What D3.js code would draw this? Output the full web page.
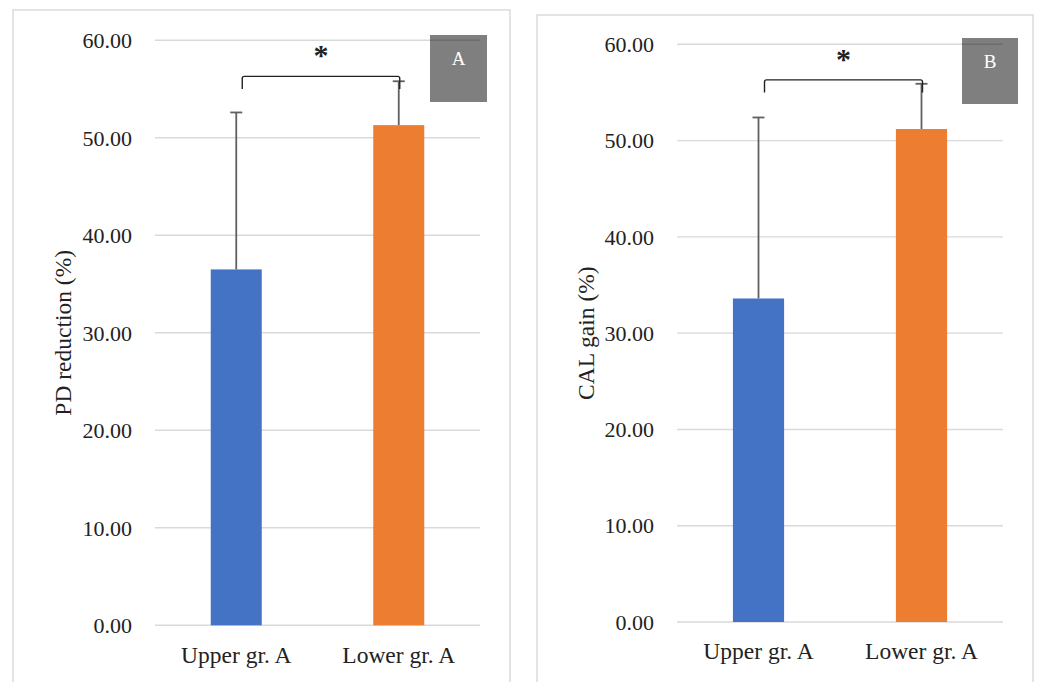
<!DOCTYPE html>
<html lang="en">
<head>
    <meta charset="UTF-8">
    <title>PD reduction and CAL gain</title>
    <style>
        body {
            margin: 0;
            padding: 0;
            background-color: #fff;
            font-family: 'Liberation Serif', serif;
        }
        .grid line {
            stroke: #d9d9d9;
            stroke-width: 1.4px;
        }
        .tick-label {
            font-size: 22px;
            fill: #222;
        }
        .cat-label {
            font-size: 23.5px;
            fill: #222;
        }
        .axis-title {
            font-size: 23.5px;
            fill: #222;
        }
        .err {
            stroke: #606060;
            stroke-width: 1.8px;
        }
        .bracket {
            fill: none;
            stroke: #222;
            stroke-width: 1.4px;
        }
    </style>
</head>
<body>
    <svg id="chart"></svg>

    <script src="https://d3js.org/d3.v7.min.js"></script>
    <script>
        // Data
        const categories = ['Upper gr. A', 'Lower gr. A'];
        const colors = ['#4472c4', '#ed7d31'];
        const yTicks = [0, 10, 20, 30, 40, 50, 60];

        const pdMean = [36.5, 51.3];
        const pdSD = [16.1, 4.5];

        const calMean = [33.6, 51.2];
        const calSD = [18.8, 4.7];

        const bracketLevel = 56.3;
        const bracketDrop = 55.0;

        const width = 1038;
        const height = 682;

        const svg = d3.select('#chart')
            .attr('width', width)
            .attr('height', height);

        // Panel layouts
        const panels = [
            {
                mean: pdMean, sd: pdSD, title: 'PD reduction (%)', tag: 'A',
                frame: [13, 10, 497, 700],
                x0: 155, x1: 480, yTop: 40.3, yBottom: 625.3,
                titleX: 71, labelY: 663,
                box: [430, 35, 57, 67]
            },
            {
                mean: calMean, sd: calSD, title: 'CAL gain (%)', tag: 'B',
                frame: [537, 15, 496, 700],
                x0: 677, x1: 1003, yTop: 44.3, yBottom: 622,
                titleX: 594, labelY: 659,
                box: [962, 38, 56, 66]
            }
        ];

        panels.forEach(drawPanel);

        function drawPanel(p) {
            const g = svg.append('g');

            g.append('rect')
                .attr('x', p.frame[0]).attr('y', p.frame[1])
                .attr('width', p.frame[2]).attr('height', p.frame[3])
                .attr('fill', '#fff')
                .attr('stroke', '#d9d9d9')
                .attr('stroke-width', 1.4);

            const x = d3.scaleBand()
                .domain(categories)
                .range([p.x0, p.x1])
                .paddingInner(0.686)
                .paddingOuter(0.343);

            const y = d3.scaleLinear()
                .domain([0, 60])
                .range([p.yBottom, p.yTop]);

            // gridlines
            g.append('g')
                .attr('class', 'grid')
                .selectAll('line')
                .data(yTicks)
                .enter()
                .append('line')
                .attr('x1', p.x0)
                .attr('x2', p.x1)
                .attr('y1', d => y(d))
                .attr('y2', d => y(d));

            // tick labels
            g.selectAll('.tick-label')
                .data(yTicks)
                .enter()
                .append('text')
                .attr('class', 'tick-label')
                .attr('text-anchor', 'end')
                .attr('x', p.x0 - 23)
                .attr('y', d => y(d))
                .attr('dy', '0.35em')
                .text(d3.format('.2f'));

            // error bars (drawn before bars so the stem starts at bar top)
            const cx = c => x(c) + x.bandwidth() / 2;

            g.selectAll('.err-stem')
                .data(categories)
                .enter()
                .append('line')
                .attr('class', 'err')
                .attr('x1', cx).attr('x2', cx)
                .attr('y1', (c, i) => y(p.mean[i]))
                .attr('y2', (c, i) => y(p.mean[i] + p.sd[i]));

            g.selectAll('.err-cap')
                .data(categories)
                .enter()
                .append('line')
                .attr('class', 'err')
                .attr('x1', c => cx(c) - 6).attr('x2', c => cx(c) + 6)
                .attr('y1', (c, i) => y(p.mean[i] + p.sd[i]))
                .attr('y2', (c, i) => y(p.mean[i] + p.sd[i]));

            // bars
            g.selectAll('.bar')
                .data(categories)
                .enter()
                .append('rect')
                .attr('x', c => x(c))
                .attr('width', x.bandwidth())
                .attr('y', (c, i) => y(p.mean[i]))
                .attr('height', (c, i) => y(0) - y(p.mean[i]))
                .attr('fill', (c, i) => colors[i]);

            // category labels
            g.selectAll('.cat-label')
                .data(categories)
                .enter()
                .append('text')
                .attr('class', 'cat-label')
                .attr('text-anchor', 'middle')
                .attr('x', cx)
                .attr('y', p.labelY)
                .text(d => d);

            // axis title
            const midY = (p.yTop + p.yBottom) / 2;
            g.append('text')
                .attr('class', 'axis-title')
                .attr('text-anchor', 'middle')
                .attr('transform', `translate(${p.titleX},${midY}) rotate(-90)`)
                .text(p.title);

            // significance bracket
            const bx1 = cx(categories[0]) + 6;
            const bx2 = cx(categories[1]) + 1;
            g.append('path')
                .attr('class', 'bracket')
                .attr('d', `M${bx1},${y(bracketDrop)} V${y(bracketLevel) + 2} Q${bx1},${y(bracketLevel)} ${bx1 + 2},${y(bracketLevel)} H${bx2 - 2} Q${bx2},${y(bracketLevel)} ${bx2},${y(bracketLevel) + 2} V${y(bracketDrop)}`);

            g.append('text')
                .attr('x', (bx1 + bx2) / 2)
                .attr('y', y(bracketLevel) - 11)
                .attr('text-anchor', 'middle')
                .attr('font-size', '30px')
                .attr('font-weight', 'bold')
                .attr('fill', '#222')
                .text('*');

            // panel tag box
            g.append('rect')
                .attr('x', p.box[0]).attr('y', p.box[1])
                .attr('width', p.box[2]).attr('height', p.box[3])
                .attr('fill', '#000')
                .attr('fill-opacity', 0.5);

            g.append('text')
                .attr('x', p.box[0] + p.box[2] / 2)
                .attr('y', p.box[1] + 30)
                .attr('text-anchor', 'middle')
                .attr('font-size', '19px')
                .attr('fill', '#fff')
                .text(p.tag);
        }
    </script>
</body>
</html>
